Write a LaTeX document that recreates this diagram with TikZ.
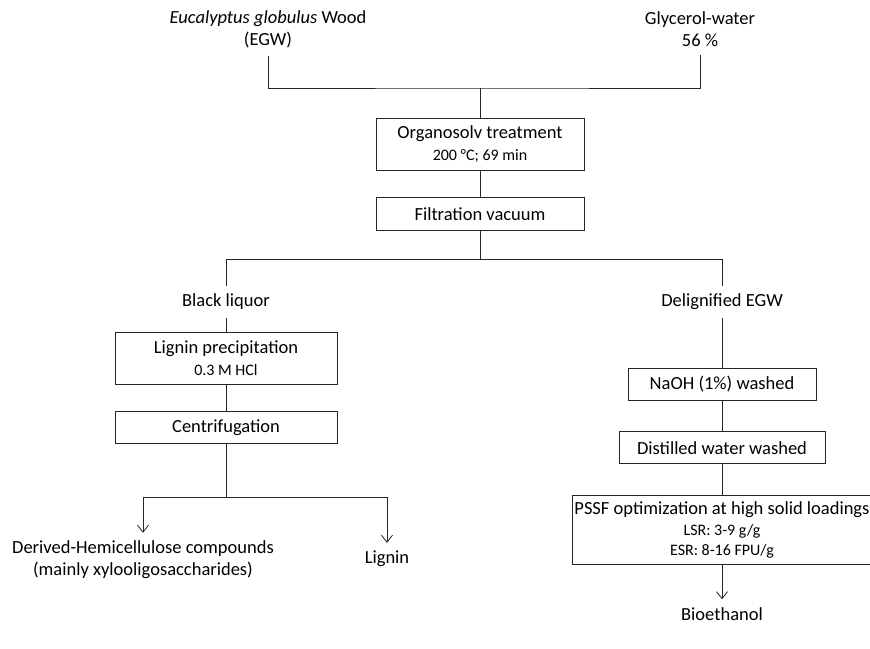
\documentclass[tikz,border=0pt]{standalone}
\usepackage{fontspec}
\setmainfont{Carlito}
\usetikzlibrary{arrows.meta, positioning}

\newcommand\mainsize{\fontsize{18.5}{22}\selectfont}
\newcommand\subsize{\fontsize{16}{20}\selectfont}

\begin{document}
\begin{tikzpicture}[x=1pt, y=-1pt,
    every node/.style={font=\mainsize},
    box/.style={draw=black!85, line width=0.8pt, align=center, inner sep=0pt},
    lbl/.style={align=center, inner xsep=2pt, inner ysep=8pt},
    link/.style={draw=black!85, line width=0.8pt},
    arrow/.style={link, -{Straight Barb[length=7pt, width=11pt]}}
]
    \useasboundingbox (0,0) rectangle (870,648);

    % raw materials
    \node[lbl] (egw) at (268,29) {\textit{Eucalyptus globulus} Wood\\(EGW)};
    \node[lbl] (gly) at (700,29) {Glycerol-water\\56~\%};
    \coordinate (join) at (480,88);

    % pretreatment
    \node[box, minimum width=208pt, minimum height=52pt] (organo) at (480,144)
        {Organosolv treatment\\{\subsize 200 °C; 69 min}};
    \node[box, minimum width=208pt, minimum height=33pt, below=27pt of organo] (filt)
        {Filtration vacuum};
    \coordinate[below=28pt of filt] (split);

    % liquid fraction
    \node[lbl] (liquor) at (226,302) {Black liquor};
    \node[box, minimum width=222pt, minimum height=52pt] (precip) at (226,358)
        {Lignin precipitation\\{\subsize 0.3 M HCl}};
    \node[box, minimum width=222pt, minimum height=32pt, below=27pt of precip] (centr)
        {Centrifugation};
    \coordinate (fork) at (226,497);
    \node[lbl] (hemi) at (143,560)
        {Derived-Hemicellulose compounds\\(mainly xylooligosaccharides)};
    \node[lbl] (lignin) at (387,559) {Lignin};

    % solid fraction
    \node[lbl] (delig) at (722,302) {Delignified EGW};
    \node[box, minimum width=188pt, minimum height=32pt] (naoh) at (722,384)
        {NaOH (1\%) washed};
    \node[box, minimum width=206pt, minimum height=32pt, below=31pt of naoh] (water)
        {Distilled water washed};
    \node[box, minimum width=300pt, minimum height=69pt, below=31pt of water] (pssf)
        {PSSF optimization at high solid loadings\\[-1.5pt]
         {\subsize LSR: 3-9 g/g}\\[-1.5pt]
         {\subsize ESR: 8-16 FPU/g}};
    \node[lbl] (ethanol) at (722,614) {Bioethanol};

    \draw[link] (egw) |- (join) -| (gly);
    \draw[link] (join) -- (organo);
    \draw[link] (organo) -- (filt);
    \draw[link] (filt) -- (split);
    \draw[link] (liquor) |- (split) -| (delig);
    \draw[link] (liquor) -- (precip);
    \draw[link] (precip) -- (centr);
    \draw[link] (centr) -- (fork);
    \draw[arrow] (fork) -| (hemi);
    \draw[arrow] (fork) -| (lignin);
    \draw[link] (delig) -- (naoh);
    \draw[link] (naoh) -- (water);
    \draw[link] (water) -- (pssf);
    \draw[arrow] (pssf) -- (ethanol);
\end{tikzpicture}
\end{document}
